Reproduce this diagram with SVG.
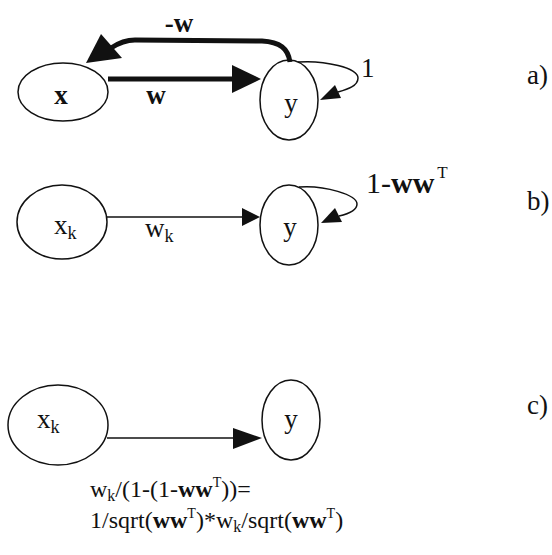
<svg xmlns="http://www.w3.org/2000/svg" width="552" height="555" viewBox="0 0 552 555">
<style>
.node{fill:none;stroke:#111;stroke-width:1.5}
.t{font-family:"Liberation Serif","Times New Roman",serif;font-size:27px;fill:#111}
.f{font-size:24px}
.b{font-weight:bold}
.thin{fill:none;stroke:#111;stroke-width:1.5}
.thick{fill:none;stroke:#111;stroke-width:5}
.head{fill:#111}
</style>
<rect width="552" height="555" fill="#fff"/>
<g id="a-x"><ellipse class="node" cx="63" cy="92" rx="45" ry="29"/><text class="t b" x="61" y="104" text-anchor="middle">x</text></g>
<g id="a-y"><ellipse class="node" cx="289" cy="100" rx="29" ry="40"/><text class="t" x="291" y="112" text-anchor="middle">y</text></g>
<g id="b-xk"><ellipse class="node" cx="62" cy="222" rx="45" ry="37"/><text class="t" x="54" y="234">x<tspan font-size="18" dy="5">k</tspan></text></g>
<g id="b-y"><ellipse class="node" cx="289" cy="225" rx="29" ry="40"/><text class="t" x="290" y="236" text-anchor="middle">y</text></g>
<g id="c-xk"><ellipse class="node" cx="58" cy="425" rx="50" ry="40"/><text class="t" x="37" y="428">x<tspan font-size="18" dy="5">k</tspan></text></g>
<g id="c-y"><ellipse class="node" cx="291" cy="420" rx="29" ry="40"/><text class="t" x="291" y="428" text-anchor="middle">y</text></g>
<g id="connectors">
<line class="thick" x1="108" y1="79" x2="236" y2="79"/>
<polygon class="head" points="232,65 261,79 232,93"/>
<path class="thick" d="M290,62 C288,48 280,42 262,41 L135,40 C125,40 117,44 111,48"/>
<polygon class="head" points="101,34 122,58 86,63"/>
<path class="thin" d="M298,62 C325,60 358,68 358,78 C358,86 348,89 338,92"/>
<polygon class="head" points="320,100 341,98 335,85"/>
<line class="thin" x1="107" y1="217" x2="245" y2="217"/>
<polygon class="head" points="242,208 260,217 242,226"/>
<path class="thin" d="M299,187 C325,185 357,195 357,204 C357,211 348,214 339,216"/>
<polygon class="head" points="321,223 342,222 335,208"/>
<line class="thin" x1="107" y1="438" x2="236" y2="438"/>
<polygon class="head" points="233,428 262,438 233,449"/>
</g>
<g id="labels">
<text class="t b" x="179" y="32" text-anchor="middle">-w</text>
<text class="t b" x="156" y="104" text-anchor="middle">w</text>
<text class="t" x="361" y="77">1</text>
<text class="t" x="145" y="237">w<tspan font-size="18" dy="5">k</tspan></text>
<text class="t" x="366" y="193" font-size="30" style="font-size:30px">1-<tspan class="b">ww</tspan><tspan font-size="17" dx="3" dy="-15">T</tspan></text>
<text class="t f" x="90" y="497">w<tspan font-size="16" dy="4">k</tspan><tspan dy="-4">/(1-(1-</tspan><tspan class="b">ww</tspan><tspan font-size="14" dy="-10">T</tspan><tspan dy="10">))=</tspan></text>
<text class="t f" x="90" y="528">1/sqrt(<tspan class="b">ww</tspan><tspan font-size="14" dy="-10">T</tspan><tspan dy="10">)*w</tspan><tspan font-size="16" dy="4">k</tspan><tspan dy="-4">/sqrt(</tspan><tspan class="b">ww</tspan><tspan font-size="14" dy="-10">T</tspan><tspan dy="10">)</tspan></text>
<text class="t" x="527" y="84">a)</text>
<text class="t" x="527" y="210">b)</text>
<text class="t" x="527" y="414">c)</text>
</g>
</svg>
